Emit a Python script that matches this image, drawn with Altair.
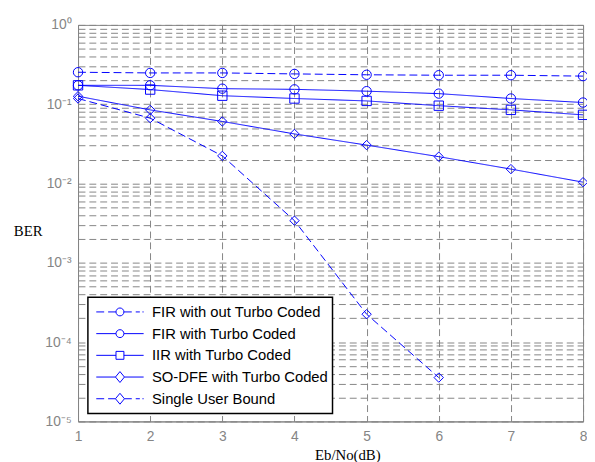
import altair as alt
import pandas as pd

# ---------------- data ----------------
x_vals = [1, 2, 3, 4, 5, 6, 7, 8]
fir_no_turbo = [0.253, 0.248, 0.248, 0.241, 0.235, 0.232, 0.232, 0.226]
fir_turbo = [0.173, 0.173, 0.157, 0.154, 0.146, 0.136, 0.118, 0.105]
iir_turbo = [0.173, 0.153, 0.128, 0.118, 0.110, 0.0958, 0.0848, 0.0734]
sodfe_turbo = [0.126, 0.0848, 0.0606, 0.0422, 0.0305, 0.0218, 0.0152, 0.0104]
single_user = [0.118, 0.0667, 0.0223, 0.0034, 0.000225, 0.0000357]

series_names = [
    "FIR with out Turbo Coded",
    "FIR with Turbo Coded",
    "IIR with Turbo Coded",
    "SO-DFE with Turbo Coded",
    "Single User Bound",
]
series_values = [fir_no_turbo, fir_turbo, iir_turbo, sodfe_turbo, single_user]
marker_shapes = ["circle", "circle", "square", "diamond", "diamond"]
dashed = [True, False, False, False, True]

x_ticks = [1, 2, 3, 4, 5, 6, 7, 8]
decade_labels = [(1, "10⁰"), (0.1, "10⁻¹"), (0.01, "10⁻²"),
                 (0.001, "10⁻³"), (0.0001, "10⁻⁴"), (0.00001, "10⁻⁵")]
y_ticks = [m * 10.0 ** e for e in range(-5, 0) for m in range(1, 10)] + [1.0]

# ---------------- build table ----------------
rows = []
for name, vals in zip(series_names, series_values):
    for xv, yv in zip(x_vals, vals):
        rows.append({"snr": xv, "ber": yv, "series": name})
df = pd.DataFrame(rows)

BLUE = "#0000ff"
GRAY = "#858585"

label_expr = "".join(
    f"abs(datum.value - {v}) < {v * 1e-3} ? '{lab}' : " for v, lab in decade_labels
) + "''"

# legend symbols: line sample + marker, as custom paths (unit = half width)
def legend_path(marker, is_dashed):
    r = 0.167
    if marker == "circle":
        m = f"M{-r},0 A{r},{r} 0 1,1 {r},0 A{r},{r} 0 1,1 {-r},0"
        g = r
    elif marker == "square":
        m = f"M{-r},{-r} H{r} V{r} H{-r} Z"
        g = r
    else:
        w, h = 0.19, 0.23
        m = f"M0,{-h} L{w},0 L0,{h} L{-w},0 Z"
        g = w
    if is_dashed:
        ln = f"M-1,0 H-0.667 M-0.5,0 H{-g} M{g},0 H0.5 M0.667,0 H0.84 M0.95,0 H1"
    else:
        ln = f"M-1,0 H{-g} M{g},0 H1"
    return ln + " " + m

legend_paths = [legend_path(m, d) for m, d in zip(marker_shapes, dashed)]

x_enc = alt.X(
    "snr:Q",
    scale=alt.Scale(domain=[1, 8], nice=False, zero=False),
    axis=alt.Axis(
        values=x_ticks, format="d", title="Eb/No(dB)",
        grid=True, gridDash=[7, 4], gridColor=GRAY, gridWidth=1,
        ticks=False, labelPadding=8, labelColor=GRAY, labelFontSize=14,
        labelFont="Liberation Sans", domain=True, domainColor=GRAY,
        titleFont="Liberation Serif", titleFontSize=15, titleFontWeight="normal",
        titleColor="black", titleX=273, titleY=39, titleBaseline="alphabetic",
        titleAlign="center", labelFlush=False,
    ),
)
y_enc = alt.Y(
    "ber:Q",
    scale=alt.Scale(type="log", domain=[0.00001, 1], nice=False),
    axis=alt.Axis(
        values=y_ticks, labelExpr=label_expr, title="BER",
        grid=True, gridDash=[7, 4], gridColor=GRAY, gridWidth=1,
        ticks=False, labelPadding=7, labelColor=GRAY, labelFontSize=14,
        labelFont="Liberation Sans", domain=True, domainColor=GRAY,
        titleFont="Liberation Serif", titleFontSize=15, titleFontWeight="normal",
        titleColor="black", titleAngle=0, titleX=-51, titleY=209,
        titleAlign="center", titleBaseline="middle", labelFlush=False,
        labelOverlap=False,
    ),
)

base = alt.Chart(df)

lines = base.mark_line(color=BLUE, strokeWidth=1).encode(
    x=x_enc,
    y=y_enc,
    detail="series:N",
    strokeDash=alt.StrokeDash(
        "series:N",
        scale=alt.Scale(domain=series_names,
                        range=[[8, 4] if d else [1, 0] for d in dashed]),
        legend=None,
    ),
)

points = base.mark_point(color=BLUE, filled=False, size=90, strokeWidth=1, opacity=1).encode(
    x="snr:Q",
    y="ber:Q",
    shape=alt.Shape("series:N",
                    scale=alt.Scale(domain=series_names, range=marker_shapes),
                    legend=None),
)

legend_layer = base.mark_point(color=BLUE, filled=False, opacity=0).encode(
    x="snr:Q",
    y="ber:Q",
    shape=alt.Shape(
        "series:N",
        scale=alt.Scale(domain=series_names, range=legend_paths),
        legend=alt.Legend(
            title=None, orient="none", legendX=10, legendY=276,
            symbolSize=2304, symbolStrokeColor=BLUE, symbolFillColor="white",
            symbolOpacity=1, symbolStrokeWidth=1, symbolOffset=4,
            labelOffset=8, labelFont="Liberation Sans", labelFontSize=15,
            labelColor="black", clipHeight=22, rowPadding=0,
            padding=4, strokeColor="black", fillColor="white",
            labelLimit=400,
        ),
    ),
)

chart = (
    alt.layer(lines, points, legend_layer)
    .resolve_scale(shape="independent")
    .properties(
        width=512, height=402,
        autosize=alt.AutoSizeParams(type="none"),
        padding={"left": 71, "top": 14, "right": 4, "bottom": 38},
        background="white",
    )
    .configure_view(stroke=GRAY, strokeWidth=1)
    .configure_legend(strokeWidth=1.5)
)

chart.save("out.html", embed_options={"renderer": "svg", "actions": False})
